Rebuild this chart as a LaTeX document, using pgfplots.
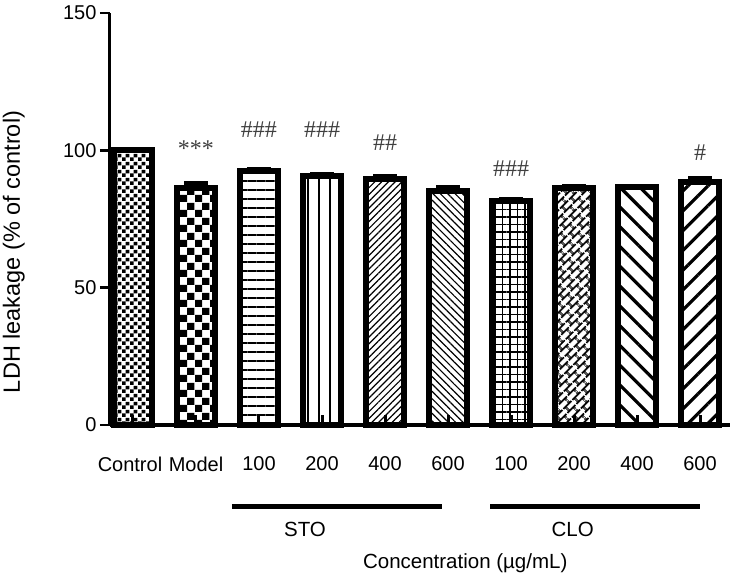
\documentclass[border=0pt]{standalone}
\usepackage{fontspec}
\setmainfont{Liberation Sans}
\newfontfamily\annfont{Liberation Serif}
\usepackage{pgfplots}
\pgfplotsset{compat=1.18}
\usetikzlibrary{patterns,patterns.meta}

% checkerboards
\tikzdeclarepattern{name=checkfine, type=uncolored,
  bounding box={(0pt,0pt) and (7.6pt,7.6pt)}, tile size={(7.6pt,7.6pt)},
  code={\fill (0pt,0pt) rectangle (3.8pt,3.8pt); \fill (3.8pt,3.8pt) rectangle (7.6pt,7.6pt);}}
\tikzdeclarepattern{name=checkbig, type=uncolored,
  bounding box={(0pt,0pt) and (15pt,15pt)}, tile size={(15pt,15pt)},
  code={\fill (0pt,0pt) rectangle (7.5pt,7.5pt); \fill (7.5pt,7.5pt) rectangle (15pt,15pt);}}
% rotated brick
\tikzdeclarepattern{name=brick, type=uncolored,
  bounding box={(0pt,0pt) and (12pt,12pt)}, tile size={(12pt,12pt)},
  tile transformation={rotate=45},
  code={\draw[line width=2pt] (0pt,3pt) -- (12pt,3pt) (0pt,9pt) -- (12pt,9pt)
        (3pt,3pt) -- (3pt,9pt) (9pt,9pt) -- (9pt,12pt) (9pt,0pt) -- (9pt,3pt);}}

\pgfplotsset{
  mybar/.style={ybar, bar width=38pt, bar shift=0pt, draw=black, line width=6pt,
    error bars/y dir=plus, error bars/y explicit,
    error bars/error bar style={line width=3pt, black},
    error bars/error mark options={rotate=90, line width=5pt, mark size=12pt, black}},
}

\begin{document}
\begin{tikzpicture}
\useasboundingbox (-110pt,-152pt) rectangle (622pt,425pt);
\begin{axis}[
  at={(0pt,0pt)}, anchor=south west,
  scale only axis, width=620pt, height=412pt,
  xmin=-0.365, xmax=9.476, ymin=0, ymax=150,
  axis x line=bottom, axis y line=left,
  x axis line style={-, line width=4pt},
  y axis line style={-, line width=3pt},
  axis on top, clip=false,
  tick align=outside, major tick length=10pt,
  ytick={0,50,100,150},
  ytick style={line width=2.5pt, black},
  xtick={0,...,9},
  xtick style={line width=3pt, black, yshift=10pt},
  xticklabels={Control\hspace*{6pt},Model,100,200,400,600,100,200,400,600},
  xticklabel style={yshift=-18pt},
  /pgf/number format/assume math mode=true,
  ticklabel style={font=\fontsize{20}{24}\selectfont},
  ylabel={LDH leakage (\% of control)},
  ylabel style={at={(axis description cs:-0.155,0.42)}, anchor=center, font=\fontsize{23.5}{27}\selectfont},
  xlabel={Concentration (µg/mL)},
  xlabel style={at={(axis description cs:0.573,-0.335)}, anchor=center, font=\fontsize{20.5}{24}\selectfont},
]
\addplot[mybar, pattern=checkfine] coordinates {(0,100) +- (0,0.3)};
\addplot[mybar, pattern=checkbig] coordinates {(1,86.3) +- (0,1.5)};
\addplot[mybar, pattern={Lines[angle=0,distance=9pt,line width=1.3pt]}] coordinates {(2,92.5) +- (0,0.5)};
\addplot[mybar, pattern={Lines[angle=90,distance=11pt,line width=1.2pt]}] coordinates {(3,90.6) +- (0,0.5)};
\addplot[mybar, pattern={Lines[angle=45,distance=4.8pt,line width=1.2pt]}] coordinates {(4,89.5) +- (0,0.8)};
\addplot[mybar, pattern={Lines[angle=-45,distance=5.2pt,line width=1.2pt]}] coordinates {(5,85.3) +- (0,1.2)};
\addplot[mybar, pattern={Hatch[angle=0,distance=7.5pt,line width=1.5pt]}] coordinates {(6,81.5) +- (0,0.5)};
\addplot[mybar, pattern=brick] coordinates {(7,86.3) +- (0,0.4)};
\addplot[mybar, pattern={Lines[angle=-45,distance=14pt,line width=3.2pt]}] coordinates {(8,86.5) +- (0,0.3)};
\addplot[mybar, pattern={Lines[angle=45,distance=14pt,line width=3.2pt]}] coordinates {(9,88.6) +- (0,1.0)};

% significance marks
\addplot[only marks, mark=none, nodes near coords, point meta=explicit symbolic,
  every node near coord/.style={anchor=center, text=black!75, font=\annfont\fontsize{24}{28}\selectfont}]
  coordinates {(1,100.5)[***] (2,107.5)[\#\#\#] (3,107.5)[\#\#\#] (4,102.7)[\#\#] (6,93.5)[\#\#\#] (9,99)[\#]};

% group bars
\addplot[black, line width=5pt, mark=none] coordinates {(1.571,-29.85) (4.905,-29.85)};
\addplot[black, line width=5pt, mark=none] coordinates {(5.667,-29.85) (9.0,-29.85)};
\node[font=\fontsize{20.5}{24}\selectfont] at (axis cs:2.73,-38.2) {STO};
\node[font=\fontsize{20.5}{24}\selectfont] at (axis cs:6.98,-38.2) {CLO};
\end{axis}
\end{tikzpicture}
\end{document}
